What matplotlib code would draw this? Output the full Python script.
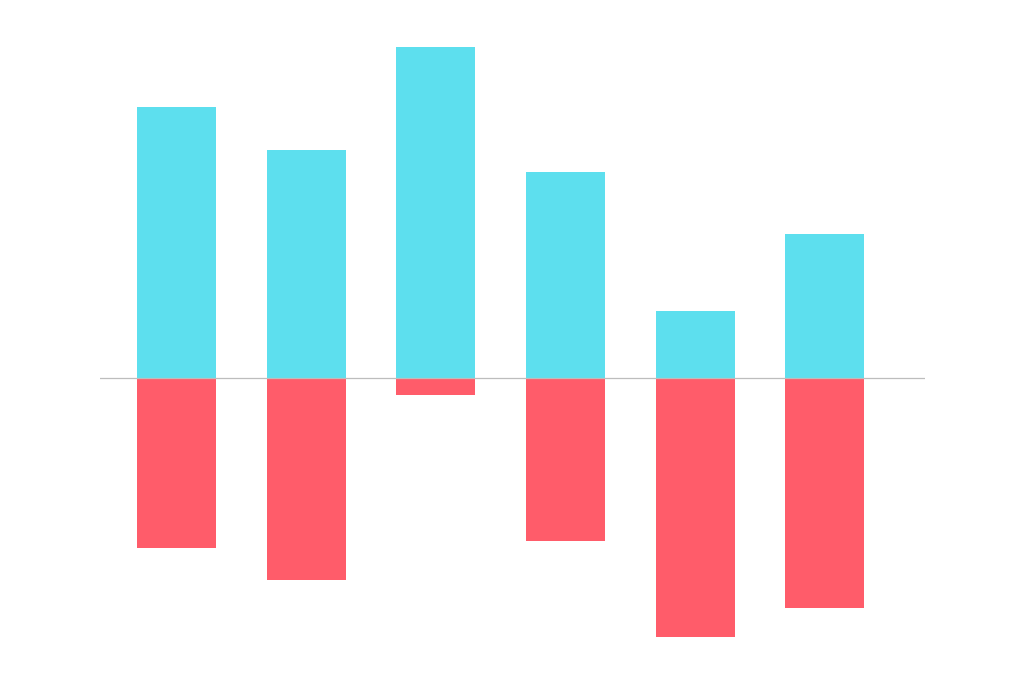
import numpy as np
import matplotlib
matplotlib.use("Agg")
from matplotlib import pyplot as plt

# values (arbitrary units)
gains = [27.1, 22.8, 33.1, 20.6, 6.7, 14.4]
losses = [-17.0, -20.2, -1.7, -16.3, -25.9, -23.0]

pos_color = "#5ddfee"
neg_color = "#ff5c6a"

fig = plt.figure(figsize=(10.24, 6.83), dpi=100)
ax = fig.add_axes([100 / 1024, 0, 825 / 1024, 1])

x = np.arange(len(gains))
ax.bar(x, gains, width=0.61, color=pos_color)
ax.bar(x, losses, width=0.61, color=neg_color)
ax.axhline(0, color="#bdbdbd", lw=0.9)

ax.set_xlim(-0.591, 5.773)
ax.set_ylim(-30.5, 37.8)
ax.axis("off")

fig.savefig("out.png", dpi=100, facecolor="white")
